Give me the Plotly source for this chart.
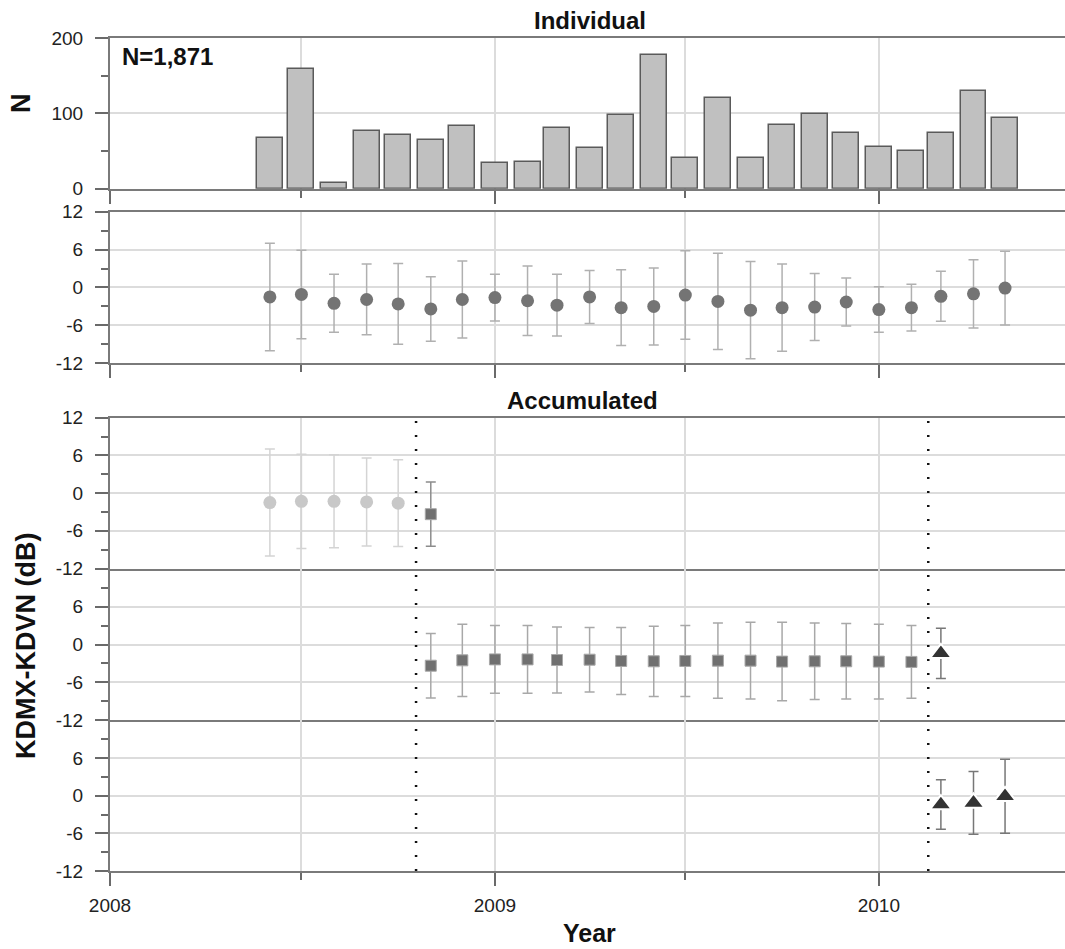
import plotly.graph_objects as go

# Monthly sample dates (bars / points are centred on the first of each month)
months = ["2008-06-01", "2008-07-01", "2008-08-01", "2008-09-01", "2008-10-01", "2008-11-01",
          "2008-12-01", "2009-01-01", "2009-02-01", "2009-03-01", "2009-04-01", "2009-05-01",
          "2009-06-01", "2009-07-01", "2009-08-01", "2009-09-01", "2009-10-01", "2009-11-01",
          "2009-12-01", "2010-01-01", "2010-02-01", "2010-03-01", "2010-04-01", "2010-05-01"]

# Number of matched samples per month
counts = [67, 159, 8, 77, 71, 64, 83, 34, 35, 81, 54, 98,
          177, 41, 121, 41, 84, 99, 74, 56, 50, 74, 129, 94]

# Individual monthly mean difference and standard deviation (dB)
ind_mean = [-1.5, -1.1, -2.5, -1.9, -2.6, -3.4, -1.9, -1.6, -2.1, -2.8, -1.5, -3.2,
            -3.0, -1.2, -2.2, -3.6, -3.2, -3.1, -2.3, -3.5, -3.2, -1.4, -1.0, -0.1]
ind_std = [8.5, 7.0, 4.6, 5.6, 6.4, 5.1, 6.1, 3.7, 5.5, 4.9, 4.2, 6.0,
           6.1, 7.0, 7.6, 7.7, 6.9, 5.3, 3.8, 3.6, 3.7, 3.95, 5.4, 5.85]

# Accumulated statistics, period 1 (Jun-Oct 2008)
acc1_months = ["2008-06-01", "2008-07-01", "2008-08-01", "2008-09-01", "2008-10-01"]
acc1_mean = [-1.5, -1.3, -1.3, -1.4, -1.6]
acc1_std = [8.5, 7.5, 7.4, 7.0, 6.9]

# Accumulated statistics, period 2 (Nov 2008 - Feb 2010)
acc2_months = ["2008-11-01", "2008-12-01", "2009-01-01", "2009-02-01", "2009-03-01", "2009-04-01",
               "2009-05-01", "2009-06-01", "2009-07-01", "2009-08-01", "2009-09-01", "2009-10-01",
               "2009-11-01", "2009-12-01", "2010-01-01", "2010-02-01"]
acc2_mean = [-3.35, -2.5, -2.35, -2.35, -2.45, -2.4, -2.6, -2.65, -2.6, -2.55, -2.55, -2.7,
             -2.65, -2.65, -2.7, -2.75]
acc2_std = [5.1, 5.7, 5.35, 5.35, 5.2, 5.1, 5.3, 5.55, 5.6, 5.95, 6.05, 6.2,
            6.05, 5.95, 5.9, 5.75]

# Accumulated statistics, period 3 (Mar-May 2010)
acc3_months = ["2010-03-01", "2010-04-01", "2010-05-01"]
acc3_mean = [-1.4, -1.15, -0.1]
acc3_std = [3.95, 5.0, 5.9]

# Period boundaries (dotted lines)
breaks = ["2008-10-18", "2010-02-17"]

FONT = "Liberation Sans, Arial, sans-serif"
GRID = "#dcdcdc"
LINE = "#7a7a7a"
TICK = "#6a6a6a"
X_RANGE = ["2008-01-01", "2010-06-27"]

fig = go.Figure()

# Monthly counts
fig.add_trace(go.Bar(
    x=months, y=counts, xaxis="x", yaxis="y",
    width=24.7 * 86400000,
    marker=dict(color="#c0c0c0", line=dict(color="#5a5a5a", width=1.5)),
    showlegend=False,
))

# Individual monthly statistics
fig.add_trace(go.Scatter(
    x=months, y=ind_mean, xaxis="x2", yaxis="y2", mode="markers",
    marker=dict(symbol="circle", size=13, color="#747474"),
    error_y=dict(type="data", array=ind_std, color="#b0b0b0", thickness=1.5, width=5),
    showlegend=False,
))

# Accumulated, period 1 plus first point of period 2
fig.add_trace(go.Scatter(
    x=acc1_months, y=acc1_mean, xaxis="x3", yaxis="y3", mode="markers",
    marker=dict(symbol="circle", size=13, color="#c8c8c8"),
    error_y=dict(type="data", array=acc1_std, color="#d4d4d4", thickness=1.5, width=5),
    showlegend=False,
))
fig.add_trace(go.Scatter(
    x=acc2_months[:1], y=acc2_mean[:1], xaxis="x3", yaxis="y3", mode="markers",
    marker=dict(symbol="square", size=11, color="#707070", line=dict(color="#a8a8a8", width=1)),
    error_y=dict(type="data", array=acc2_std[:1], color="#8c8c8c", thickness=1.5, width=5),
    showlegend=False,
))

# Accumulated, period 2 plus first point of period 3
fig.add_trace(go.Scatter(
    x=acc2_months, y=acc2_mean, xaxis="x4", yaxis="y4", mode="markers",
    marker=dict(symbol="square", size=11, color="#707070", line=dict(color="#a8a8a8", width=1)),
    error_y=dict(type="data", array=acc2_std, color="#a8a8a8", thickness=1.5, width=5),
    showlegend=False,
))
fig.add_trace(go.Scatter(
    x=acc3_months[:1], y=acc3_mean[:1], xaxis="x4", yaxis="y4", mode="markers",
    marker=dict(symbol="triangle-up", size=19, color="#333333", line=dict(color="white", width=2)),
    error_y=dict(type="data", array=acc3_std[:1], color="#777777", thickness=1.5, width=5),
    showlegend=False,
))

# Accumulated, period 3
fig.add_trace(go.Scatter(
    x=acc3_months, y=acc3_mean, xaxis="x5", yaxis="y5", mode="markers",
    marker=dict(symbol="triangle-up", size=19, color="#333333", line=dict(color="white", width=2)),
    error_y=dict(type="data", array=acc3_std, color="#777777", thickness=1.5, width=5),
    showlegend=False,
))

# Panel vertical domains (top to bottom)
domains = [(0.8191, 1.0), (0.6095, 0.7915), (0.3631, 0.5442), (0.1807, 0.3631), (0.0, 0.1807)]


def xaxis(anchor, ticks, labels, mirror):
    return dict(
        type="date", range=X_RANGE, anchor=anchor, domain=[0, 1],
        tickmode="array",
        tickvals=["2008-01-01", "2009-01-01", "2010-01-01"],
        ticktext=["2008", "2009", "2010"],
        showticklabels=labels,
        ticks="outside" if ticks else "", ticklen=13, tickwidth=1.5, tickcolor=TICK,
        minor=dict(tickmode="array", tickvals=["2008-07-01", "2009-07-01"],
                   ticks="outside" if ticks else "", ticklen=7, tickwidth=1.5,
                   tickcolor=TICK, showgrid=True, gridcolor=GRID, gridwidth=1.5),
        showgrid=True, gridcolor=GRID, gridwidth=1.5,
        showline=True, linecolor=LINE, linewidth=2, mirror=mirror,
        zeroline=False, fixedrange=True,
        tickfont=dict(family=FONT, size=19, color="#222"),
        ticklabelstandoff=3,
    )


def yaxis(anchor, dom, rng, vals, minor_vals):
    return dict(
        anchor=anchor, domain=list(dom), range=rng,
        tickmode="array", tickvals=vals, ticktext=[str(v) for v in vals],
        ticks="outside", ticklen=13, tickwidth=1.5, tickcolor=TICK,
        minor=dict(tickmode="array", tickvals=minor_vals, ticks="outside",
                   ticklen=7, tickwidth=1.5, tickcolor=TICK, showgrid=False),
        showgrid=True, gridcolor=GRID, gridwidth=1.5,
        showline=True, linecolor=LINE, linewidth=2,
        zeroline=False, fixedrange=True,
        tickfont=dict(family=FONT, size=19, color="#222"),
        ticklabelstandoff=8,
    )


err_major = [-12, -6, 0, 6, 12]
err_major_lower = [-12, -6, 0, 6]
err_minor = [-9, -3, 3, 9]

fig.update_layout(
    width=1065, height=949,
    margin=dict(l=110, r=0, t=38, b=78),
    paper_bgcolor="white", plot_bgcolor="white",
    bargap=0,
    xaxis=xaxis("y", True, False, True),
    xaxis2=xaxis("y2", True, False, True),
    xaxis3=xaxis("y3", False, False, True),
    xaxis4=xaxis("y4", False, False, False),
    xaxis5=xaxis("y5", True, True, False),
    yaxis=yaxis("x", domains[0], [0, 200], [0, 100, 200], [50, 150]),
    yaxis2=yaxis("x2", domains[1], [-12, 12], err_major, err_minor),
    yaxis3=yaxis("x3", domains[2], [-12, 12], err_major, err_minor),
    yaxis4=yaxis("x4", domains[3], [-12, 12], err_major_lower, err_minor),
    yaxis5=yaxis("x5", domains[4], [-12, 12], err_major_lower, err_minor),
)

# Dotted period boundaries across the accumulated panels
for b in breaks:
    fig.add_shape(type="line", xref="x5", yref="paper", x0=b, x1=b, y0=0, y1=domains[2][1],
                  line=dict(color="#111", width=2.5, dash="2px,12px"), layer="above")

ann_font = dict(family=FONT, color="#111")
fig.add_annotation(text="<b>Individual</b>", xref="paper", yref="paper", x=0.5026, y=1.0216,
                   showarrow=False, font=dict(size=24, **ann_font), xanchor="center", yanchor="middle")
fig.add_annotation(text="<b>Accumulated</b>", xref="paper", yref="paper", x=0.495, y=0.5654,
                   showarrow=False, font=dict(size=24, **ann_font), xanchor="center", yanchor="middle")
fig.add_annotation(text="<b>N=1,871</b>", xref="paper", yref="paper", x=0.0105, y=0.9772,
                   showarrow=False, font=dict(size=24, **ann_font), xanchor="left", yanchor="middle")
fig.add_annotation(text="<b>N</b>", xref="paper", yref="paper", x=-0.0932, y=0.922,
                   showarrow=False, textangle=-90, font=dict(size=27, **ann_font),
                   xanchor="center", yanchor="middle")
fig.add_annotation(text="<b>KDMX-KDVN (dB)</b>", xref="paper", yref="paper", x=-0.088, y=0.270,
                   showarrow=False, textangle=-90, font=dict(size=27, **ann_font),
                   xanchor="center", yanchor="middle")
fig.add_annotation(text="<b>Year</b>", xref="paper", yref="paper", x=0.5026, y=-0.0744,
                   showarrow=False, font=dict(size=25, **ann_font), xanchor="center", yanchor="middle")

fig.write_html("out.html")
